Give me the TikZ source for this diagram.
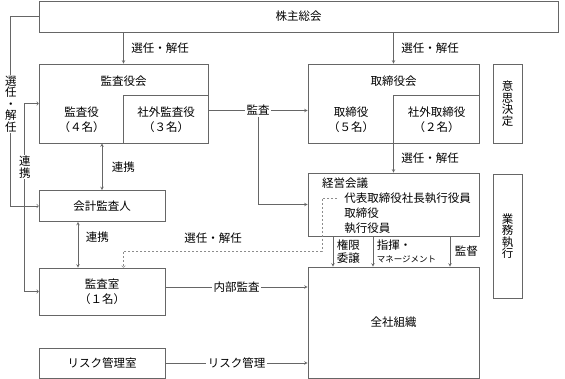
\documentclass[tikz,border=0pt]{standalone}
\usepackage{fontspec}
\setmainfont{Noto Sans CJK JP}
\begin{document}
\begin{tikzpicture}[x=1pt,y=-1pt,>=stealth,color=black!60,text=black,line width=0.6pt,
  blk/.style={draw,rectangle,inner sep=0pt,align=center,
    font=\fontsize{11.5}{15}\selectfont},
  lbl/.style={inner sep=1.5pt,align=center,font=\fontsize{11.5}{14.5}\selectfont},
  vlbl/.style={inner sep=1pt,align=center,fill=white,font=\fontsize{11.5}{11.5}\selectfont},
  openarr/.style={-to},
  dot/.style={draw=black!45,dash pattern=on 2pt off 2pt}]
\useasboundingbox (0,0) rectangle (565,379);
% boxes
\node[blk,minimum width=519,minimum height=31] (kabu) at (298.5,16.5) {株主総会};
\node[blk,minimum width=169,minimum height=79] (kansa) at (123.5,103.5) {};
\node[lbl] (kansaT) at (123.5,81) {監査役会};
\node[lbl] (kansaN) at (81.5,119.5) {監査役\\（４名）};
\node[lbl] (kansaS) at (166,119.5) {社外監査役\\（３名）};
\draw (kansa.south) |- ([yshift=8.5pt]kansa.east);
\node[blk,minimum width=171,minimum height=79] (tori) at (393.5,103.5) {};
\node[lbl] (toriT) at (393.5,81) {取締役会};
\node[lbl] (toriN) at (351,119.5) {取締役\\（５名）};
\node[lbl] (toriS) at (436.5,119.5) {社外取締役\\（２名）};
\draw (tori.south) |- ([yshift=8.5pt]tori.east);
\node[blk,minimum width=29,minimum height=79,font=\fontsize{11.5}{11.5}\selectfont] (ishi) at (507.5,103.5) {意\\思\\決\\定};
\node[blk,minimum width=126,minimum height=31] (kaikei) at (102,206) {会計監査人};
\node[blk,minimum width=126,minimum height=47] (shitsu) at (102,291.5) {監査室\\（１名）};
\node[blk,minimum width=126,minimum height=30] (risk) at (102,363) {リスク管理室};
\node[blk,minimum width=171,minimum height=63] (keiei) at (393.5,204.5) {};
\node[lbl] (keieiT) at (345,183) {経営会議};
\node[lbl,align=left,anchor=west,font=\fontsize{11.5}{15}\selectfont] (keieiL) at (342.5,213) {代表取締役社長執行役員\\取締役\\執行役員};
\node[blk,minimum width=171,minimum height=111] (zensha) at (393.5,322.5) {全社組織};
\node[blk,minimum width=29,minimum height=124,font=\fontsize{11.5}{11.5}\selectfont] (gyomu) at (507.5,236) {業\\務\\執\\行};
% connectors
\draw[->] (kabu.south -| kansa.north) -- (kansa.north) node[midway,right=6pt,lbl] {選任・解任};
\draw[->] (kabu.south -| tori.north) -- (tori.north) node[midway,right=6pt,lbl] {選任・解任};
\draw[->] (tori.south) -- (keiei.north) node[midway,right=6pt,lbl] {選任・解任};
\draw[<->] (kansa.south -| kaikei.north) -- (kaikei.north) node[midway,right=8pt,lbl] {連携};
\draw[<->] ([xshift=-24pt]kaikei.south) -- ([xshift=-24pt]shitsu.north) node[pos=0.33,right=6pt,lbl] {連携};
\draw[openarr] (kabu.west) -- ++(-28,0) |- (kaikei.west);
\draw[to-to] (kansa.west) -- ++(-14,0) |- (shitsu.west);
\node[vlbl] (senL) at (11,104) {選\\任\\・\\解\\任};
\node[vlbl] (renL) at (25,167) {連\\携};
\draw[->] ([yshift=-7pt]kansa.east) -- ([yshift=-7pt]tori.west) node[midway,fill=white,lbl] (kansaLbl) {監査};
\draw[->] (kansaLbl.south) |- (keiei.west);
\draw[->] ([yshift=4.5pt]shitsu.east) -- ([yshift=4.5pt]shitsu.east -| zensha.west) node[midway,fill=white,lbl] {内部監査};
\draw[->] (risk.east) -- (risk.east -| zensha.west) node[midway,fill=white,lbl] {リスク管理};
\draw[->] ([xshift=-60.5pt]keiei.south) -- ([xshift=-60.5pt]keiei.south |- zensha.north)
  node[midway,right=2pt,lbl,align=left,font=\fontsize{11.5}{13}\selectfont] {権限\\委譲};
\draw[->] ([xshift=-20.5pt]keiei.south) -- ([xshift=-20.5pt]keiei.south |- zensha.north)
  node[midway,right=2pt,lbl,align=left,font=\fontsize{11.5}{13}\selectfont] {指揮・\\{\fontsize{8.5}{13}\selectfont マネージメント}};
\draw[->] ([xshift=56.5pt]keiei.south) -- ([xshift=56.5pt]keiei.south |- zensha.north)
  node[midway,right=3pt,lbl] {監督};
% dotted
\coordinate (dstart) at (337,198);
\coordinate (dturn) at (322,251);
\draw[dot,openarr] (dstart) -| (dturn) -| (shitsu.north -| kansa.north);
\node[lbl] (dsel) at (213,238) {選任・解任};
\end{tikzpicture}
\end{document}
